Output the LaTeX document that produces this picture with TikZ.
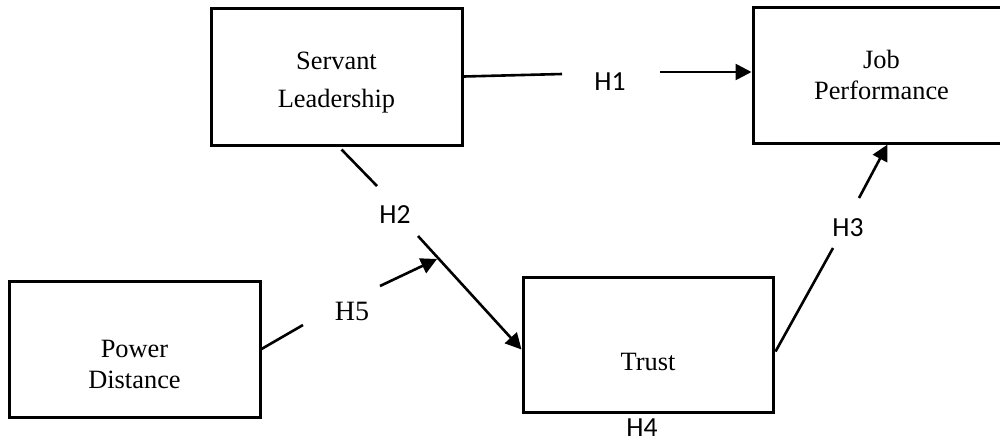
\documentclass[tikz,border=0pt]{standalone}
\usepackage{fontspec}
\setmainfont{Liberation Serif}
\newfontfamily\calfont{Carlito}
\usetikzlibrary{arrows.meta,calc}
\begin{document}
\begin{tikzpicture}[x=0.5pt,y=-0.5pt,
  box/.style={draw,line width=1.5pt,align=center,inner sep=0pt},
  hlab/.style={font=\calfont\fontsize{13.8}{16}\selectfont,inner sep=0pt},
  conn/.style={line width=1.3pt},
  arr/.style={conn,-{Triangle[length=8pt,width=8pt]}}]
\useasboundingbox (0,0) rectangle (1000,441);
% boxes
\node[box,minimum width=125.5pt,minimum height=68.5pt,font=\fontsize{13.2}{19}\selectfont] (SL) at (336.5,76.5) {\rule{0pt}{15pt}Servant\\Leadership};
\node[box,minimum width=128.5pt,minimum height=68pt,font=\fontsize{13.2}{15.5}\selectfont] (JP) at (881.5,75) {Job\\Performance};
\node[box,minimum width=125.5pt,minimum height=68pt,font=\fontsize{13.2}{15.5}\selectfont] (PD) at (134.5,349) {\rule{0pt}{23.7pt}Power\\Distance};
\node[box,minimum width=125pt,minimum height=67.5pt,font=\fontsize{13.2}{15.5}\selectfont] (TR) at (648,344.5) {\rule{0pt}{25.7pt}Trust};
% labels
\node[hlab] (h1) at (610,82) {H1};
\node[hlab] (h2) at (395,215) {H2};
\node[hlab] (h3) at (848,228) {H3};
\node[hlab] (h4) at (642,428) {H4};
\node[inner sep=0pt,font=\fontsize{14}{16}\selectfont] (h5) at (352,311.5) {H5};
% segment ends
\coordinate (h1a) at (562,74);
\coordinate (h1b) at (660,72);
\coordinate (h2a) at (377,186);
\coordinate (h2b) at (418,236);
\coordinate (h3a) at (833,248);
\coordinate (h3b) at (859,198);
\coordinate (h5a) at (303,325);
\coordinate (h5b) at (380,286);
\coordinate (h5tip) at (437,259);
% connectors
\draw[conn] (SL.east) -- (h1a);
\draw[arr] (h1b) -- (JP.west |- h1b);
\draw[conn] ($(SL.south)+(5,3)$) -- (h2a);
\draw[arr] (h2b) -- ($(TR.west)+(0,5)$);
\draw[conn] ($(TR.east)+(1,7)$) -- (h3a);
\draw[arr] (h3b) -- ($(JP.south)+(6,0)$);
\draw[conn] (PD.east) -- (h5a);
\draw[arr] (h5b) -- (h5tip);
\end{tikzpicture}
\end{document}
